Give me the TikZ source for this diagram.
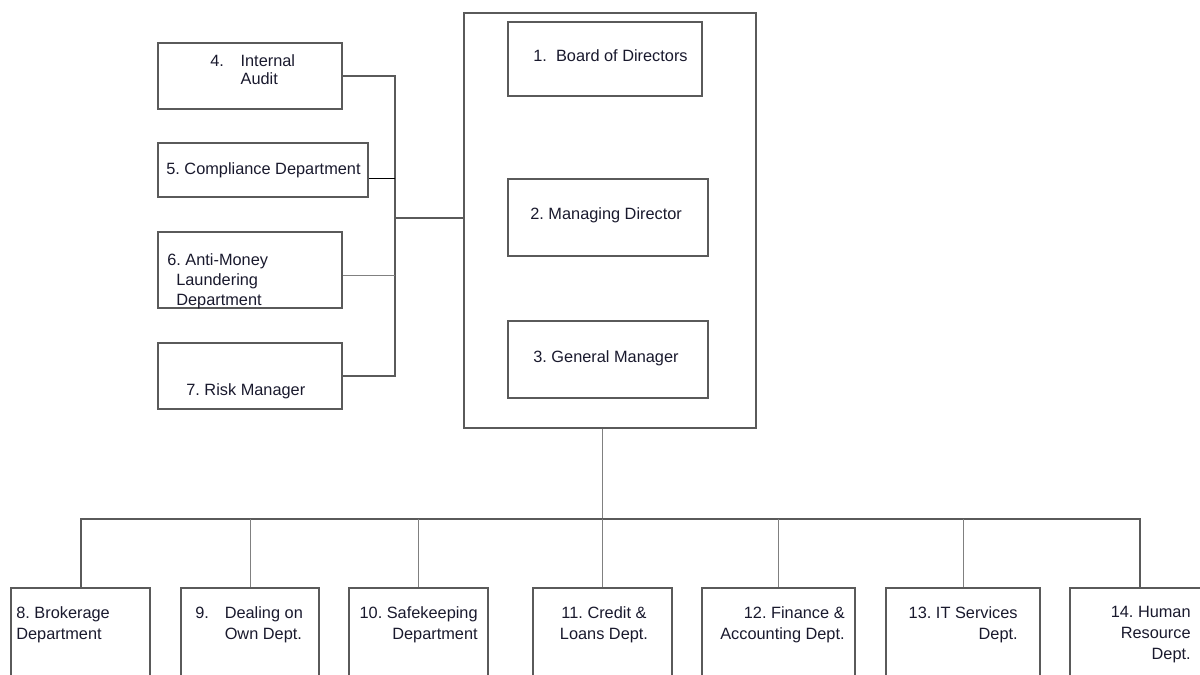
\documentclass[tikz,border=0pt]{standalone}
\usepackage{fontspec}
\setmainfont{Liberation Sans}
\usepackage{xcolor}
\usetikzlibrary{positioning,calc,fit}
\frenchspacing

\definecolor{linegray}{RGB}{90,90,90}
\definecolor{thingray}{RGB}{128,128,128}
\definecolor{inkblue}{RGB}{25,25,45}

\tikzset{
    unit/.style={draw=linegray, line width=1.2pt, inner sep=0pt},
    lbl/.style={font=\fontsize{9.8}{12.6}\selectfont, text=inkblue, inner sep=0pt},
    bus/.style={draw=linegray, line width=1.2pt},
    tap/.style={draw=thingray, line width=0.6pt}
}

\begin{document}
\begin{tikzpicture}[x=0.6pt, y=-0.6pt]
    \clip (0,0) rectangle (1200,675);

    % Top management frame
    \node[unit, fit={(464,13) (756,428)}] (frame) {};
    \node[unit, fit={(508,22) (702,96)}] (bod) {};
    \node[unit, fit={(508,179) (708,256)}] (md) {};
    \node[unit, fit={(508,321) (708,398)}] (gm) {};
    \node[lbl, anchor=base west] (t1) at (533,62) {1.\ \ Board of Directors};
    \node[lbl, anchor=base west] (t2) at (530,219) {2. Managing Director};
    \node[lbl, anchor=base west] (t3) at (533,362) {3. General Manager};

    % Control functions
    \node[unit, fit={(158,43) (342,109)}] (audit) {};
    \node[unit, fit={(158,143) (368,197)}] (comp) {};
    \node[unit, fit={(158,232) (342,308)}] (aml) {};
    \node[unit, fit={(158,343) (342,409)}] (risk) {};
    \node[lbl, anchor=north west, align=left] (t4) at (210,54)
        {4.\hspace{10pt}Internal\\[-1.8pt]\hphantom{4.\hspace{10pt}}Audit};
    \node[lbl, anchor=base west] (t5) at (166,175) {5. Compliance Department};
    \node[lbl, anchor=north west, align=left] (t6) at (167,253)
        {6. Anti-Money\\[-0.6pt]\hspace{5.4pt}Laundering\\[-0.6pt]\hspace{5.4pt}Department};
    \node[lbl, anchor=base west] (t7) at (186,395) {7. Risk Manager};

    \coordinate (jl) at (395,218);
    \draw[bus] (audit.east) -| (jl) |- (risk.east);
    \draw[bus] (jl) -- (jl -| frame.west);
    \path ($(comp.east)+(0,9)$) coordinate (c5);
    \path ($(aml.east)+(0,5)$) coordinate (c6);
    \draw[line width=0.6pt, black] (c5) -- (c5 -| jl);
    \draw[tap] (c6) -- (c6 -| jl);

    % Departments
    \node[unit, fit={(11,588) (150,720)}] (d8) {};
    \node[unit, fit={(181,588) (319,720)}] (d9) {};
    \node[unit, fit={(349,588) (488,720)}] (d10) {};
    \node[unit, fit={(533,588) (672,720)}] (d11) {};
    \node[unit, fit={(702,588) (855,720)}] (d12) {};
    \node[unit, fit={(886,588) (1040,720)}] (d13) {};
    \node[unit, fit={(1070,588) (1210,720)}] (d14) {};

    \node[lbl, anchor=north west, align=left] (t8) at (16,606) {8. Brokerage\\Department};
    \node[lbl, anchor=north west, align=left] (t9) at (195,606)
        {9.\hspace{9.5pt}Dealing on\\\hphantom{9.\hspace{9.5pt}}Own Dept.};
    \node[lbl, anchor=north east, align=right] (t10) at (478,606) {10. Safekeeping\\Department};
    \node[lbl, anchor=north, align=center] (t11) at (604,606) {11. Credit \&\\Loans Dept.};
    \node[lbl, anchor=north east, align=right] (t12) at (845,606) {12. Finance \&\\Accounting Dept.};
    \node[lbl, anchor=north east, align=right] (t13) at (1018,606) {13. IT Services\\Dept.};
    \node[lbl, anchor=north east, align=right] (t14) at (1191,606) {14. Human\\Resource\\Dept.};

    \coordinate (jb) at (602,519);
    \draw[tap] (frame.south -| jb) -- (jb);
    \draw[bus] (d8.north) |- (jb) -| (d14.north);
    \foreach \d in {d9,d10,d11,d12,d13}
        \draw[tap] (\d.north) -- (\d.north |- jb);
\end{tikzpicture}
\end{document}
